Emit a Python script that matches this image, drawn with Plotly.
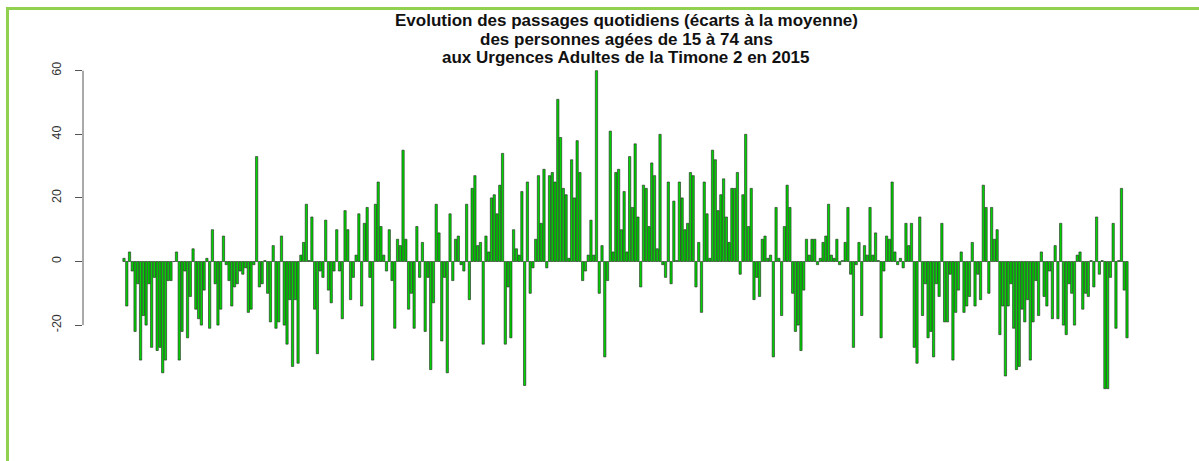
import plotly.graph_objects as go

# Daily deviation from the mean, one value per day
ecarts = [
    1, -14, 3, -3, -22, -7, -31, -17, -20, -7, -27, -5, -28, -27, -35, -31, -6, -6, 0, 3,
    -31, -22, -3, -24, -11, 4, -15, -18, -20, -9, 1, -21, 10, -7, -20, -15, 8, -1, -6, -14,
    -8, -7, -3, -4, -2, -16, -15, -1, 33, -8, -7, 0.3, -10, -19, 5, -21, -19, 8, -20, -26,
    -12, -33, -12, -32, 2, 6, 18, 0.3, 14, -15, -29, -3, -5, 13, -9, -13, -3, 10, -3, -18,
    16, 10, -12, -5, 2, 15, -14, 12, 17, -5, -31, 18, 25, 11, 2, -3, 10, -6, -21, 7,
    5, 35, 7, -15, -10, -21, 11, -5, 6, -22, -5, -34, -13, 18, 9, -25, -5, -35, 15, -6,
    7, 8, -1, -3, 18, -12, 23, 27, 5, 6, -26, 8, 3, 20, 21, 15, 24, 34, -26, -8,
    -24, 10, 4, 2, 22, -39, 25, -10, -2, 7, 27, 12, 29, -2, 27, 28, 25, 51, 39, 23,
    21, 1, 32, 20, 38, 28, -6, -3, 2, 13, 2, 60, -10, 5, -30, -6, 41, 3, 28, 29,
    10, 22, 3, 33, 17, 37, 14, -8, 24, 23, 11, 31, 27, 4, 40, -1, -5, 25, -7, 19,
    0.3, 25, 20, 10, 12, 28, 27, -8, 6, -16, 25, 15, 1, 35, 32, 16, 21, 26, 14, 6,
    23, 23, 28, -4, 21, 40, 11, 23, -12, -5, -11, 7, 8, 1, 2, -30, 17, 1, -17, 11,
    24, 17, -10, -22, -20, -28, -9, 7, 2, 7, 7, -1, 1, 6, 8, 18, 2, 1, 7, -1,
    0.3, 6, 17, -4, -27, -1, 6, -17, 5, 2, 17, 2, 9, 0.3, -24, -3, 8, 7, 25, 3,
    -1, 1, -2, 12, 5, 12, -27, -32, 14, -17, -7, -24, -22, -30, -7, -11, 12, -19, -19, -4,
    -31, -16, -9, 3, -16, -14, -11, 6, -14, -4, -12, 24, 17, -10, 17, 7, 10, -23, -14, -36,
    -14, -7, -21, -34, -33, -15, -19, -12, -31, -19, -6, -17, 3, -11, -14, -3, -18, 5, -18, 12,
    -20, -23, -7, -10, -20, 2, 3, -15, -10, -11, 0.3, -8, 14, -4, 0.3, -40, -40, -5, 12, -21,
    0.3, 23, -9, -24,
]
jours = list(range(1, len(ecarts) + 1))
y_ticks = [-20, 0, 20, 40, 60]
titre = [
    "Evolution des passages quotidiens (écarts à la moyenne)",
    "des personnes agées de 15 à 74 ans",
    "aux Urgences Adultes de la Timone 2 en 2015",
]

W, H = 1199, 461
L, R, T, B = 83, 1160, 60, 400
zero_px, per_unit = 261.5, 3.18
pitch = (1127 - 124) / (len(ecarts) - 1)

y_top = (zero_px - T) / per_unit
y_bot = -(B - zero_px) / per_unit
x_left = 1 - (124 - L) / pitch
x_right = len(ecarts) + (R - 1127) / pitch

fig = go.Figure(go.Bar(
    x=jours, y=ecarts,
    marker=dict(color="#00d400", line=dict(color="#222222", width=0.6)),
    hoverinfo="x+y",
))

def py(p):
    return (B - p) / (B - T)

def px(p):
    return (p - L) / (R - L)

for txt, yy in zip(titre, [20.5, 39, 57.5]):
    fig.add_annotation(
        text="<b>%s</b>" % txt, xref="paper", yref="paper",
        x=px(626), y=py(yy), xanchor="center", yanchor="middle",
        showarrow=False, font=dict(family="Liberation Sans, Arial", size=17, color="#111"),
    )

# y axis line (R style, spanning the pretty ticks only)
fig.add_shape(type="line", xref="paper", yref="y", x0=0, x1=0,
              y0=y_ticks[0], y1=y_ticks[-1], line=dict(color="#555", width=1))

# green frame
fig.add_shape(type="rect", xref="paper", yref="paper",
              x0=px(7.5), x1=px(1240), y0=py(8.5), y1=py(520),
              line=dict(color="#92d050", width=3), layer="below")

fig.update_layout(
    width=W, height=H,
    margin=dict(l=L, r=W - R, t=T, b=H - B),
    paper_bgcolor="white", plot_bgcolor="white",
    bargap=0.17, showlegend=False,
    xaxis=dict(visible=False, range=[x_left, x_right]),
    yaxis=dict(
        range=[y_bot, y_top], tickvals=y_ticks, ticktext=[str(v) for v in y_ticks],
        ticks="outside", ticklen=7, tickcolor="#555", tickwidth=1,
        tickangle=-90, showgrid=False, zeroline=False, showline=False,
        tickfont=dict(family="Liberation Sans, Arial", size=12.5, color="#333"),
        ticklabelstandoff=9,
    ),
)

fig.write_html("out.html", config={"displayModeBar": False},
               post_script="document.body.style.margin='0';")
